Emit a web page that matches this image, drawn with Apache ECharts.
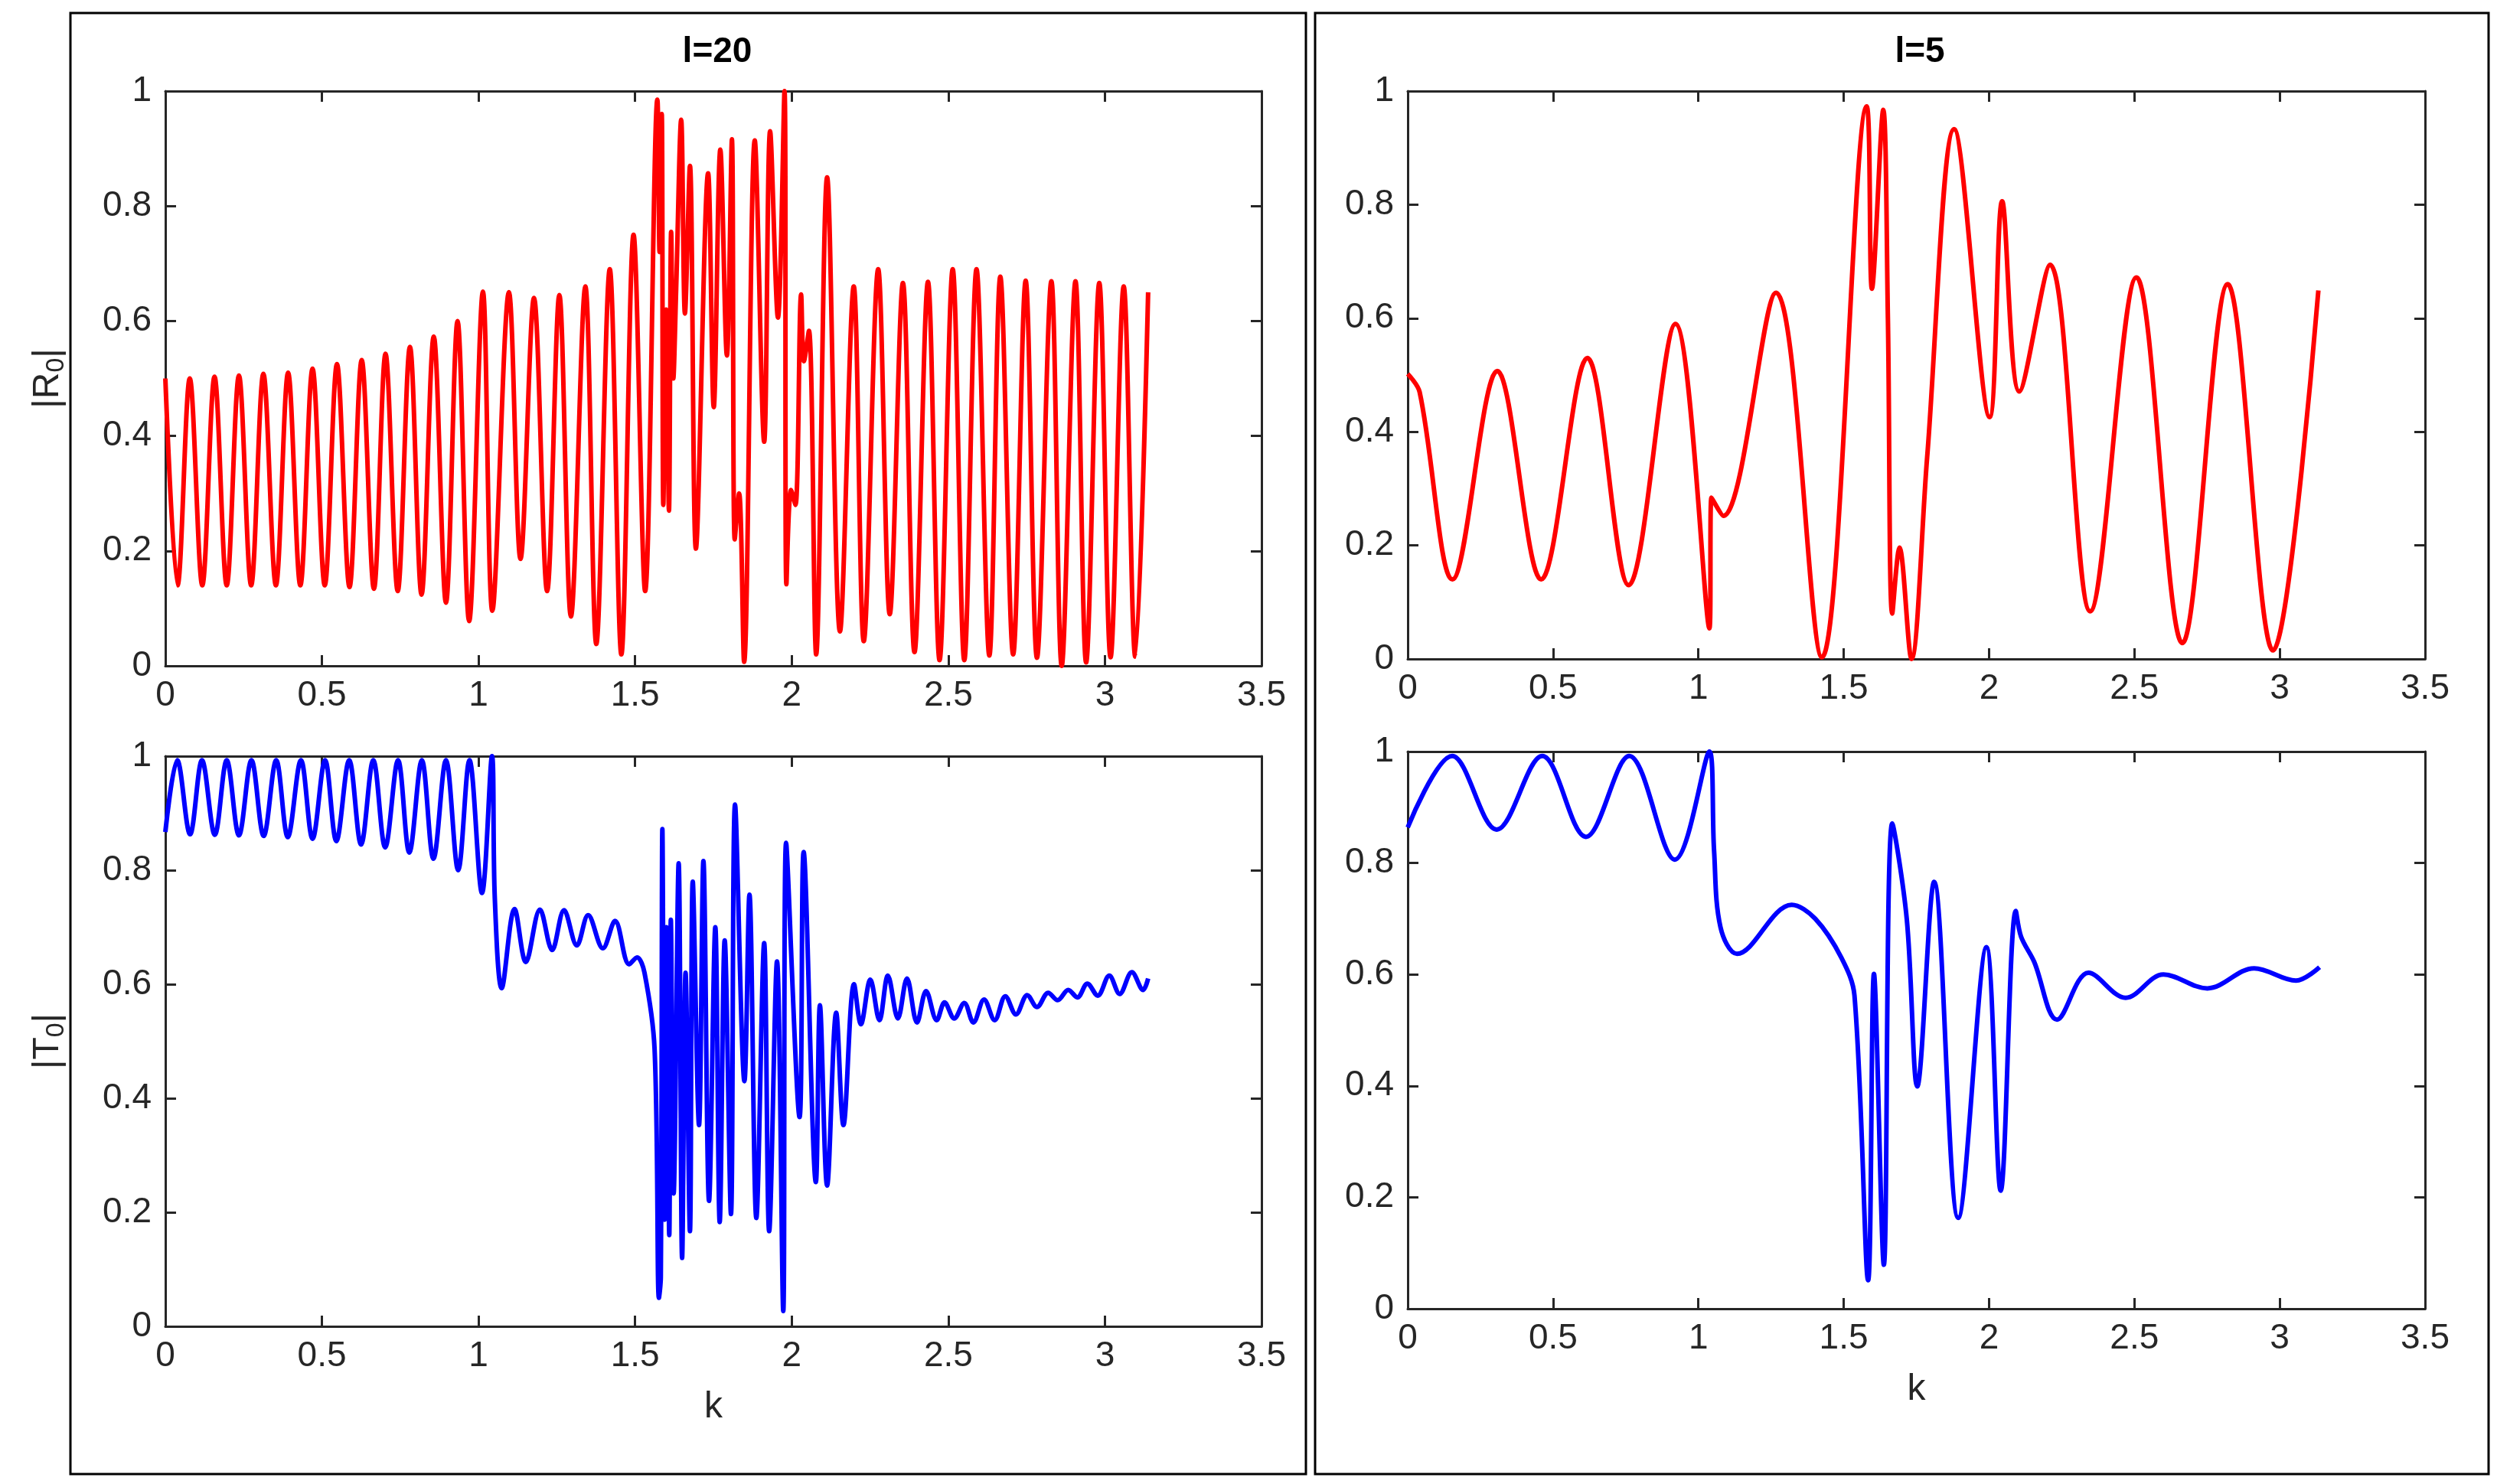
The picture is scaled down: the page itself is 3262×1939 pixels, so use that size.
<!DOCTYPE html>
<html>
<head>
<meta charset="UTF-8">
<script src="https://cdn.jsdelivr.net/npm/echarts@6/dist/echarts.min.js"></script>
</head>
<body style="margin:0;background:#fff">
<div id="main" style="width:3262px;height:1939px;"></div>
<script>
// l=20, |R0|
var kR20 = [0,0.039,0.078,0.118,0.157,0.196,0.235,0.274,0.313,0.353,0.392,0.431,0.47,0.509,0.548,0.588,0.627,0.666,0.703,0.742,0.781,0.818,0.857,0.896,0.933,0.97,1.014,1.044,1.097,1.134,1.177,1.219,1.258,1.295,1.341,1.376,1.419,1.456,1.495,1.532,1.571,1.578,1.585,1.59,1.599,1.608,1.615,1.622,1.631,1.647,1.659,1.675,1.694,1.733,1.751,1.772,1.793,1.809,1.818,1.832,1.848,1.882,1.912,1.931,1.956,1.977,1.983,1.998,2.012,2.03,2.039,2.055,2.078,2.113,2.154,2.198,2.23,2.276,2.313,2.355,2.392,2.435,2.472,2.514,2.551,2.59,2.631,2.666,2.707,2.747,2.783,2.829,2.862,2.906,2.94,2.982,3.018,3.06,3.097,3.138];
var R20 = [0.5,0.14,0.5,0.14,0.503,0.14,0.505,0.14,0.508,0.14,0.51,0.14,0.517,0.14,0.525,0.137,0.532,0.134,0.543,0.13,0.555,0.124,0.573,0.11,0.6,0.078,0.651,0.096,0.65,0.186,0.64,0.13,0.645,0.086,0.66,0.038,0.69,0.02,0.75,0.13,0.985,0.72,0.96,0.28,0.62,0.27,0.755,0.5,0.656,0.95,0.613,0.87,0.204,0.857,0.45,0.898,0.54,0.916,0.22,0.3,0.007,0.914,0.39,0.93,0.606,1.0,0.142,0.306,0.28,0.646,0.53,0.583,0.02,0.85,0.06,0.66,0.043,0.69,0.09,0.666,0.024,0.668,0.01,0.69,0.01,0.69,0.018,0.677,0.02,0.67,0.014,0.669,0,0.669,0.006,0.666,0.015,0.66,0.016,0.65];

// l=20, |T0|
var kT20 = [0,0.038,0.079,0.117,0.158,0.196,0.235,0.275,0.314,0.354,0.391,0.433,0.47,0.51,0.546,0.587,0.625,0.664,0.702,0.743,0.779,0.819,0.856,0.896,0.935,0.971,1.011,1.043,1.052,1.074,1.115,1.151,1.196,1.235,1.273,1.314,1.35,1.397,1.436,1.481,1.506,1.53,1.562,1.576,1.582,1.587,1.594,1.6,1.609,1.614,1.623,1.639,1.65,1.661,1.675,1.684,1.704,1.718,1.736,1.756,1.77,1.786,1.806,1.819,1.849,1.865,1.887,1.912,1.928,1.953,1.973,1.982,2.025,2.038,2.077,2.09,2.113,2.142,2.165,2.199,2.221,2.251,2.28,2.307,2.339,2.368,2.4,2.429,2.463,2.488,2.519,2.551,2.58,2.614,2.648,2.682,2.716,2.752,2.783,2.819,2.849,2.883,2.912,2.944,2.977,3.014,3.047,3.086,3.122,3.138];
var T20 = [0.867,0.993,0.863,0.993,0.862,0.993,0.861,0.993,0.86,0.993,0.858,0.993,0.855,0.993,0.851,0.993,0.845,0.993,0.84,0.993,0.831,0.993,0.82,0.993,0.8,0.993,0.76,1.0,0.75,0.593,0.732,0.639,0.731,0.66,0.73,0.668,0.721,0.663,0.711,0.635,0.647,0.62,0.487,0.05,0.087,0.872,0.187,0.7,0.16,0.713,0.233,0.812,0.12,0.62,0.167,0.78,0.353,0.816,0.22,0.7,0.183,0.677,0.197,0.915,0.43,0.757,0.19,0.672,0.167,0.64,0.027,0.848,0.367,0.832,0.253,0.563,0.247,0.55,0.353,0.6,0.53,0.608,0.537,0.615,0.54,0.61,0.533,0.588,0.537,0.568,0.54,0.567,0.533,0.573,0.537,0.579,0.547,0.581,0.56,0.585,0.572,0.59,0.577,0.601,0.58,0.615,0.583,0.621,0.59,0.61];

// l=5, |R0|
var kR5 = [0,0.041,0.154,0.308,0.459,0.618,0.76,0.921,1.038,1.045,1.086,1.267,1.425,1.579,1.597,1.636,1.652,1.667,1.692,1.733,1.787,1.88,2.002,2.045,2.104,2.21,2.348,2.507,2.665,2.821,2.977,3.133];
var R5 = [0.502,0.47,0.14,0.507,0.14,0.53,0.13,0.59,0.054,0.284,0.252,0.645,0.003,0.973,0.652,0.967,0.6,0.08,0.196,0,0.355,0.933,0.426,0.806,0.471,0.694,0.084,0.672,0.028,0.66,0.015,0.649];

// l=5, |T0|
var kT5 = [0,0.153,0.306,0.463,0.613,0.762,0.919,1.038,1.054,1.076,1.133,1.321,1.402,1.492,1.537,1.584,1.604,1.638,1.667,1.717,1.753,1.811,1.894,1.991,2.04,2.092,2.11,2.155,2.234,2.342,2.47,2.6,2.751,2.912,3.056,3.137];
var T5 = [0.864,0.992,0.86,0.992,0.847,0.992,0.806,1.0,0.822,0.685,0.637,0.725,0.7,0.63,0.562,0.051,0.601,0.079,0.871,0.699,0.399,0.766,0.163,0.649,0.212,0.714,0.668,0.623,0.519,0.603,0.558,0.6,0.575,0.611,0.589,0.613];

var xTicks = ['0','0.5','1','1.5','2','2.5','3','3.5'];
var yTicks = ['0','0.2','0.4','0.6','0.8','1'];

function zip(a, b) { return a.map(function (v, i) { return [v, b[i]]; }); }

var axColor = '#262626';
var font = 'Liberation Sans';
var grids = [
    {left: 216, top: 119, width: 1432, height: 751},
    {left: 216, top: 988, width: 1432, height: 745},
    {left: 1839, top: 119, width: 1329, height: 742},
    {left: 1839, top: 982, width: 1329, height: 728}
];

var xAxes = [], yAxes = [], series = [];
var xNames = ['', 'k', '', 'k'];
var yNames = ['|R{s|0}|', '|T{s|0}|', '', ''];
var lines = [[kR20, R20, '#ff0000'], [kT20, T20, '#0000ff'], [kR5, R5, '#ff0000'], [kT5, T5, '#0000ff']];

grids.forEach(function (g, i) {
    var line = {show: true, onZero: false, lineStyle: {color: axColor, width: 3}};
    var tick = {show: true, inside: true, length: 14, lineStyle: {color: axColor, width: 3}};
    var lab = {color: '#262626', fontSize: 46, fontFamily: font};
    ['bottom', 'top'].forEach(function (pos) {
        xAxes.push({
            type: 'value', gridIndex: i, position: pos, min: 0, max: 3.5, interval: 0.5,
            axisLine: line, axisTick: tick, splitLine: {show: false},
            axisLabel: pos === 'bottom' ? Object.assign({margin: 16, formatter: function (v) { return xTicks[Math.round(v / 0.5)]; }}, lab) : {show: false},
            name: pos === 'bottom' ? xNames[i] : '', nameLocation: 'middle', nameGap: 82,
            nameTextStyle: {fontSize: 48, fontFamily: font, color: '#262626'}
        });
    });
    ['left', 'right'].forEach(function (pos) {
        yAxes.push({
            type: 'value', gridIndex: i, position: pos, min: 0, max: 1, interval: 0.2,
            axisLine: line, axisTick: tick, splitLine: {show: false},
            axisLabel: pos === 'left' ? Object.assign({margin: 18, formatter: function (v) { return yTicks[Math.round(v / 0.2)]; }}, lab) : {show: false},
            name: pos === 'left' ? yNames[i] : '', nameLocation: 'middle', nameGap: 125,
            nameTextStyle: {fontSize: 48, fontFamily: font, color: '#262626',
                rich: {s: {fontSize: 34, fontFamily: font, color: '#262626', padding: [22, 0, 0, 0]}}}
        });
    });
    series.push({
        type: 'line', xAxisIndex: i * 2, yAxisIndex: i * 2,
        data: zip(lines[i][0], lines[i][1]), showSymbol: false, smooth: 0.35,
        lineStyle: {color: lines[i][2], width: 6}, animation: false
    });
});

var myChart = echarts.init(document.getElementById('main'));
myChart.setOption({
    backgroundColor: '#fff',
    animation: false,
    title: [
        {text: 'l=20', left: 932, top: 40, textAlign: 'center', textStyle: {fontSize: 46, fontWeight: 'bold', fontFamily: font, color: '#000'}},
        {text: 'l=5', left: 2503, top: 40, textAlign: 'center', textStyle: {fontSize: 46, fontWeight: 'bold', fontFamily: font, color: '#000'}}
    ],
    graphic: [
        {type: 'rect', shape: {x: 92, y: 17, width: 1614, height: 1909}, style: {fill: 'none', stroke: '#000', lineWidth: 3}},
        {type: 'rect', shape: {x: 1718, y: 17, width: 1533, height: 1909}, style: {fill: 'none', stroke: '#000', lineWidth: 3}}
    ],
    grid: grids,
    xAxis: xAxes,
    yAxis: yAxes,
    series: series
});
</script>
</body>
</html>
